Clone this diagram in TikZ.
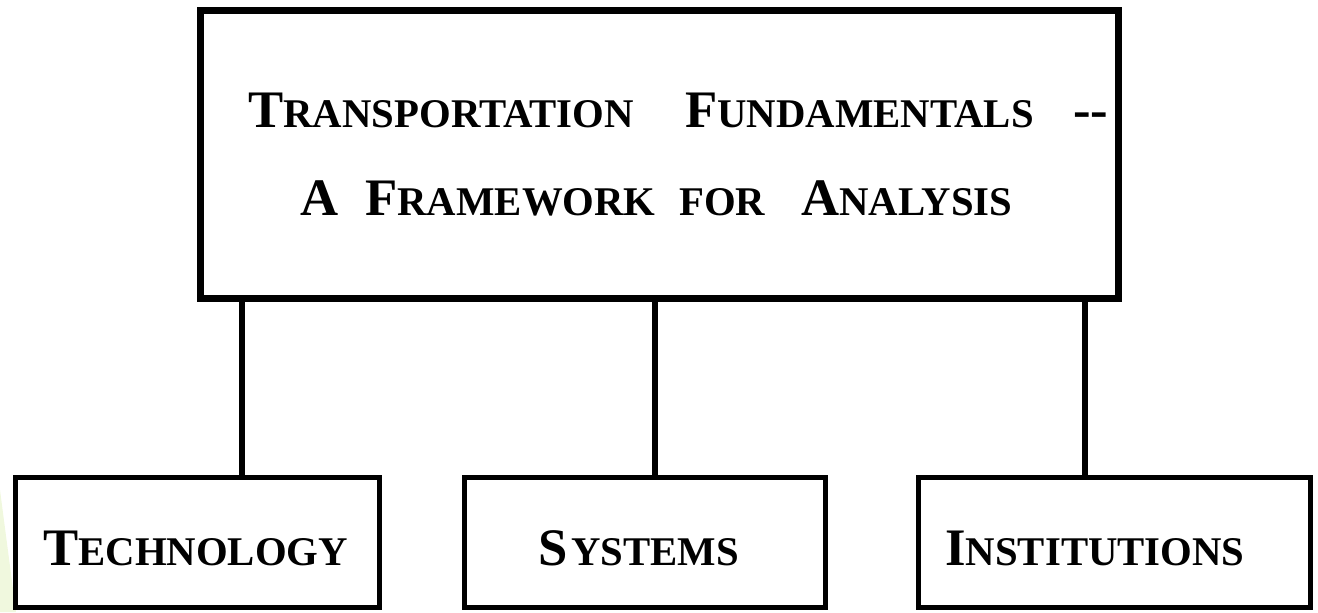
\documentclass[tikz,border=0pt]{standalone}
\usepackage{fontspec}
\setmainfont{Liberation Serif}
\usepackage{xcolor}
\definecolor{wedgegreen}{RGB}{240,248,222}
\newcommand{\capsz}{\fontsize{30}{36}\selectfont}
\newcommand{\scsz}{\fontsize{23.2}{28}\selectfont}

\begin{document}
\begin{tikzpicture}[x=0.02cm,y=-0.02cm,
	box/.style={draw,line width=0.1cm,minimum height=2.6cm,inner sep=0pt},
	word/.style={anchor=base west,inner sep=0pt,font=\bfseries\capsz},
	link/.style={line width=0.12cm}]
	\useasboundingbox (0,0) rectangle (1318,612);
	\fill[wedgegreen] (0,490) -- (16,612) -- (0,612) -- cycle;

	\node[box,line width=0.14cm,minimum width=18.36cm,minimum height=5.76cm] (main) at (659.5,154.5) {};
	\node[box,minimum width=7.28cm] (tech) at (197.5,542.5) {};
	\node[box,minimum width=7.22cm] (sys) at (645,542.5) {};
	\node[box,minimum width=7.84cm] (inst) at (1114.5,542.5) {};

	\coordinate (ktech) at (242,0);
	\coordinate (ksys) at (655,0);
	\coordinate (kinst) at (1085,0);
	\draw[link] (main.south -| ktech) -- (tech.north -| ktech);
	\draw[link] (main.south -| ksys) -- (sys.north -| ksys);
	\draw[link] (main.south -| kinst) -- (inst.north -| kinst);

	\node[word] (trans) at (248,127) {T{\scsz RANSPORTATION}};
	\node[word] (fund) at (685,127) {F{\scsz UNDAMENTALS}};
	\node[word] (dash) at (1073,127) {{-}{-}};
	\node[word] (art) at (300,215) {A};
	\node[word] (frame) at (365,215) {F{\scsz RAMEWORK}};
	\node[word] (for) at (679,215) {{\scsz FOR}};
	\node[word] (anal) at (801,215) {A{\scsz NALYSIS}};

	\node[word] (techtxt) at (43,565) {T{\scsz ECHNOLOGY}};
	\node[word] (systxt) at (538,565) {S\hspace{2pt}{\scsz YSTEMS}};
	\node[word] (insttxt) at (945,565) {I{\scsz NSTITUTIONS}};
\end{tikzpicture}
\end{document}
